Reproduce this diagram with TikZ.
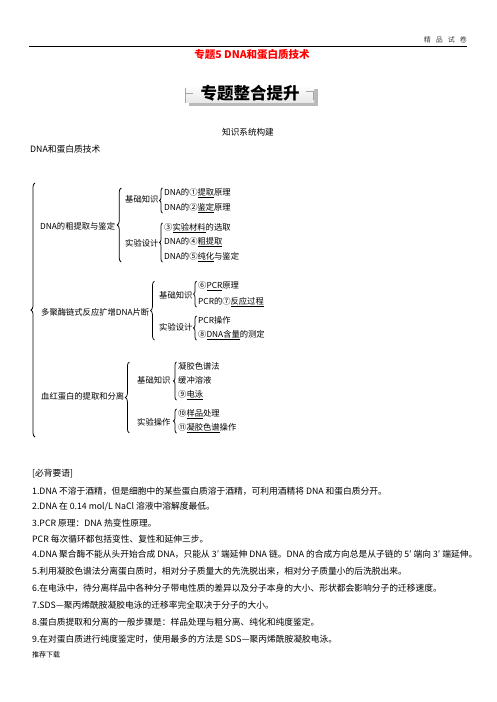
\documentclass[tikz,border=0pt]{standalone}
\usepackage{fontspec}
\setmainfont{Noto Sans CJK SC}
\usetikzlibrary{decorations.pathreplacing}
\newcommand{\ulx}[1]{\underline{#1}}
\newcommand{\dotx}[1]{\ooalign{#1\cr\hidewidth\raisebox{-3pt}{\tiny .}\hidewidth}}

\begin{document}
\begin{tikzpicture}[x=1pt,y=-1pt,
  txt/.style={anchor=west,inner sep=0pt,font=\fontsize{8.75}{10}\selectfont},
  leaf/.style={anchor=west,inner sep=0pt,font=\fontsize{8.3}{10}\selectfont},
  brc/.style={decorate,decoration={brace,amplitude=#1},line width=0.75pt},
  brc/.default=3pt]
  \useasboundingbox (0,0) rectangle (496,702);

  % header
  \node[anchor=east,inner sep=0pt,text=black!75,font=\fontsize{7}{8}\selectfont] (hdr) at (467,40) {精\hspace{5pt}品\hspace{5pt}试\hspace{5pt}卷};
  \coordinate (rl) at (29,46);
  \coordinate (rr) at (467,46);
  \draw[line width=0.8pt] (rl) -- (rr);
  \node[inner sep=0pt,text=red,font=\fontsize{10.5}{12}\selectfont\bfseries] (title) at (252,55) {专题5 DNA和蛋白质技术};

  % banner
  \fill[gray!55] (189,89) rectangle (318,106);
  \shade[top color=white,bottom color=gray!18] (185,85) rectangle (314,102);
  \draw[gray!70,line width=0.5pt] (185,88) -- (185,103) (185,93) -- (193,93);
  \draw[gray!70,line width=0.5pt] (306,91) -- (313,91) -- (313,100);
  \node[inner sep=0pt,font=\fontsize{16.5}{18}\selectfont\bfseries] (ban) at (250,93) {专题整合提升};

  \node[inner sep=0pt,font=\fontsize{8.6}{10}\selectfont] (sub) at (248,132) {知识系统构建};
  \node[txt] (top) at (30,149) {DNA和蛋白质技术};

  % outer brace
  \coordinate (otop) at (35,183);
  \coordinate (obot) at (35,437);
  \draw[brc=4pt] (obot) -- (otop);

  % DNA
  \node[leaf] (g1) at (40,226) {DNA的粗提取与鉴定};
  \node[leaf] (s11) at (125,199) {基础知识};
  \node[leaf] (s12) at (125,243) {实验设计};
  \node[leaf] (l11) at (164,193) {DNA的①\ulx{提取}原理};
  \node[leaf] (l12) at (164,208) {DNA的②\ulx{鉴定}原理};
  \node[leaf] (l13) at (164,228) {③\ulx{实验材料}的选取};
  \node[leaf] (l14) at (164,242) {DNA的④\ulx{粗提取}};
  \node[leaf] (l15) at (164,257) {DNA的⑤\ulx{纯化}与鉴定};
  \draw[brc=4pt] ([xshift=6pt]g1.east |- l15.south) -- ([xshift=6pt]g1.east |- l11.north);
  \draw[brc] ([xshift=-1.5pt]l12.south west) -- ([xshift=-1.5pt]l11.north west);
  \draw[brc] ([xshift=-1.5pt]l15.south west) -- ([xshift=-1.5pt]l13.north west);

  % PCR
  \node[leaf] (g2) at (41,312) {多聚酶链式反应扩增DNA片断};
  \node[leaf] (s21) at (159,295) {基础知识};
  \node[leaf] (s22) at (159,327) {实验设计};
  \node[leaf] (l21) at (198,286) {⑥\ulx{PCR}原理};
  \node[leaf] (l22) at (198,302) {PCR的⑦\ulx{反应过程}};
  \node[leaf] (l23) at (198,320) {PCR操作};
  \node[leaf] (l24) at (198,335) {⑧\ulx{DNA含量}的测定};
  \draw[brc=4pt] ([xshift=5pt]g2.east |- l24.south) -- ([xshift=5pt]g2.east |- l21.north);
  \draw[brc] ([xshift=-1.5pt]l22.south west) -- ([xshift=-1.5pt]l21.north west);
  \draw[brc] ([xshift=-1.5pt]l24.south west) -- ([xshift=-1.5pt]l23.north west);

  % protein
  \node[leaf] (g3) at (41,396) {血红蛋白的提取和分离};
  \node[leaf] (s31) at (137,380) {基础知识};
  \node[leaf] (s32) at (137,422) {实验操作};
  \node[leaf] (l31) at (178,366) {凝胶色谱法};
  \node[leaf] (l32) at (178,380) {缓冲溶液};
  \node[leaf] (l33) at (178,395) {⑨\ulx{电泳}};
  \node[leaf] (l34) at (178,414) {⑩\ulx{样品}处理};
  \node[leaf] (l35) at (178,428) {⑪\ulx{凝胶色谱}操作};
  \draw[brc=4pt] ([xshift=5pt]g3.east |- l35.south) -- ([xshift=5pt]g3.east |- l31.north);
  \draw[brc] ([xshift=-1.5pt]l33.south west) -- ([xshift=-1.5pt]l31.north west);
  \draw[brc] ([xshift=-1.5pt]l35.south west) -- ([xshift=-1.5pt]l34.north west);

  % key points
  \node[txt] (k0) at (32,474) {[必背要语]};
  \node[txt] (k1) at (32,491) {1.DNA 不溶于酒精，但是细胞中的某些蛋白质溶于酒精，可利用酒精将 DNA 和蛋白质分开。};
  \node[txt] (k2) at (32,507) {2.DNA 在 0.14 mol/L NaCl 溶液中溶解度最低。};
  \node[txt] (k3) at (32,523) {3.PCR 原理：DNA 热变性原理。};
  \node[txt] (k3b) at (32,539) {PCR 每次循环都包括变性、复性和延伸三步。};
  \node[txt] (k4) at (32,555) {4.DNA 聚合酶不能从头开始合成 DNA，只能从 \dotx{3}′ 端延伸 DNA 链。DNA 的合成方向总是从子链的 5′ 端向 3′ 端延伸。};
  \node[txt] (k5) at (32,571) {5.利用凝胶色谱法分离蛋白质时，相对分子质量大的先洗脱出来，相对分子质量小的后洗脱出来。};
  \node[txt] (k6) at (32,588) {6.在电泳中，待分离样品中各种分子带电性质的差异以及分子本身的大小、形状都会影响分子的迁移速度。};
  \node[txt] (k7) at (32,605) {7.SDS—聚丙烯酰胺凝胶电泳的迁移率完全取决于分子的大小。};
  \node[txt] (k8) at (32,622) {8.蛋白质提取和分离的一般步骤是：样品处理与粗分离、纯化和纯度鉴定。};
  \node[txt] (k9) at (32,639) {9.在对蛋白质进行纯度鉴定时，使用最多的方法是 SDS—聚丙烯酰胺凝胶电泳。};
  \node[anchor=west,inner sep=0pt,font=\fontsize{7}{8}\selectfont] (foot) at (32,655) {推荐下载};
\end{tikzpicture}
\end{document}
